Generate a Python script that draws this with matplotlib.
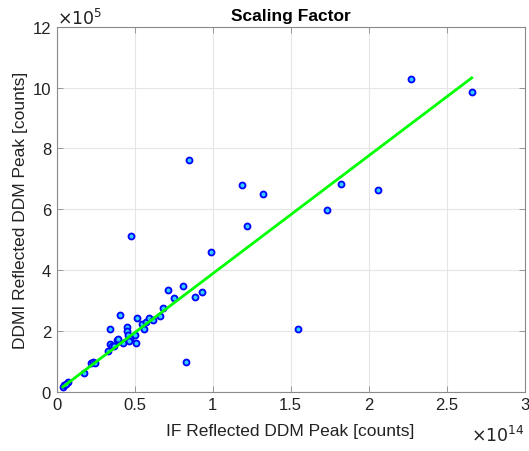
import matplotlib.pyplot as plt
import numpy as np

plt.rcParams['font.family'] = ['Liberation Sans', 'DejaVu Sans']

# x in units of 1e14 counts, y in units of 1e5 counts
if_peak = [0.04, 0.05, 0.075, 0.06, 0.175, 0.22, 0.235, 0.245, 0.33, 0.34,
           0.356, 0.37, 0.385, 0.395, 0.34, 0.406, 0.427, 0.45, 0.45, 0.457,
           0.47, 0.465, 0.50, 0.51, 0.517, 0.547, 0.558, 0.57, 0.59, 0.62,
           0.66, 0.68, 0.715, 0.75, 0.81, 0.89, 0.93, 0.83, 0.478, 0.846,
           0.99, 1.19, 1.22, 1.32, 1.55, 1.73, 1.82, 2.06, 2.27, 2.66]
ddmi_peak = [0.17, 0.22, 0.31, 0.25, 0.63, 0.96, 0.98, 0.94, 1.35, 1.57,
             1.49, 1.51, 1.71, 1.73, 2.07, 2.52, 1.59, 2.12, 1.99, 1.86,
             1.73, 1.67, 1.86, 1.59, 2.42, 2.22, 2.06, 2.28, 2.42, 2.36,
             2.48, 2.77, 3.34, 3.08, 3.48, 3.10, 3.29, 0.97, 5.12, 7.62,
             4.60, 6.81, 5.44, 6.51, 2.08, 5.98, 6.84, 6.63, 10.27, 9.87]

# fitted scaling line end points
fit_x = [0.04, 2.66]
fit_y = [0.16, 10.32]

xticks = [0, 0.5, 1, 1.5, 2, 2.5, 3]
yticks = [0, 2, 4, 6, 8, 10, 12]

fig = plt.figure(figsize=(5.29, 4.52), dpi=100)
ax = fig.add_axes([0.107, 0.131, 0.885, 0.8075])

ax.plot(if_peak, ddmi_peak, 'o', ms=4.3, mec='#0000ff', mfc='#33ccff', mew=1.3, zorder=3)
ax.plot(fit_x, fit_y, '-', color='#00ff00', lw=2, zorder=4)

ax.set_xlim(0, 3)
ax.set_ylim(0, 12)
ax.set_xticks(xticks)
ax.set_yticks(yticks)
ax.set_xticklabels(['0', '0.5', '1', '1.5', '2', '2.5', '3'])
ax.set_yticklabels([str(t) for t in yticks])
ax.tick_params(direction='in', top=True, right=True, labelsize=12, colors='#8a8a8a',
               length=4, width=0.6, pad=4)
for lab in ax.get_xticklabels() + ax.get_yticklabels():
    lab.set_color('#222222')
for s in ax.spines.values():
    s.set_color('#8a8a8a')
    s.set_linewidth(0.8)
ax.grid(True, color='#e6e6e6', lw=0.8)
ax.set_axisbelow(True)

ax.set_title('Scaling Factor', fontsize=12.5, fontweight='bold', pad=5)
ax.set_xlabel('IF Reflected DDM Peak [counts]', fontsize=12.5, color='#222222', labelpad=8)
ax.set_ylabel('DDMI Reflected DDM Peak [counts]', fontsize=12.5, color='#222222', labelpad=3)

ax.text(0.0, 1.0, r'$\times10^{5}$', transform=ax.transAxes, fontsize=12.5,
        ha='left', va='bottom', color='#222222')
ax.text(1.0, -0.089, r'$\times10^{14}$', transform=ax.transAxes, fontsize=12.5,
        ha='right', va='top', color='#222222')

fig.savefig('out.png', dpi=100)
